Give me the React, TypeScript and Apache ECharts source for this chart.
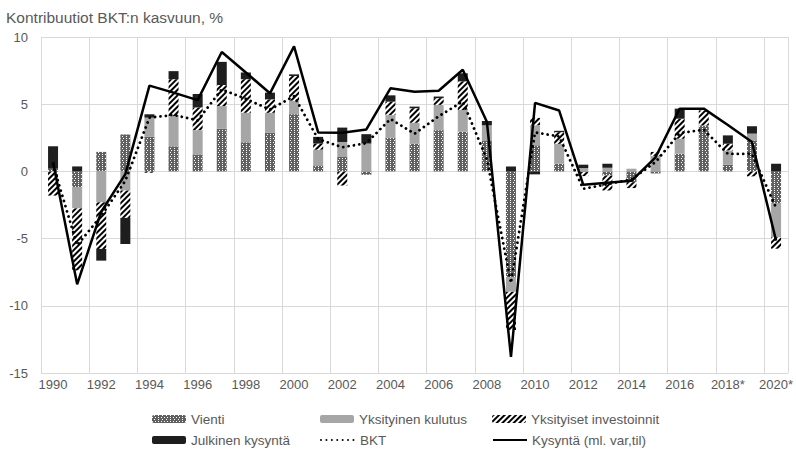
import React, { useEffect, useRef } from "react";
import * as echarts from "echarts";

const years = [
  "1990", "1991", "1992", "1993", "1994", "1995", "1996", "1997", "1998", "1999",
  "2000", "2001", "2002", "2003", "2004", "2005", "2006", "2007", "2008", "2009",
  "2010", "2011", "2012", "2013", "2014", "2015", "2016", "2017", "2018*", "2019*", "2020*",
];

const vienti = [
  0.2, -1.2, 1.45, 2.75, 2.57, 1.87, 1.27, 3.17, 2.17, 2.87,
  4.26, 0.45, 1.07, -0.25, 2.52, 2.07, 3.07, 2.95, 2.26, -7.85,
  1.94, 0.57, -0.05, -0.3, -0.8, -0.15, 1.32, 3.42, 0.5, 2.31, -2.4,
];
const kulutus = [
  0.0, -1.55, -2.3, -1.42, 1.43, 2.23, 1.8, 1.69, 2.19, 1.49,
  1.0, 1.17, 1.12, 2.07, 1.67, 1.55, 1.88, 1.62, 1.17, -1.1,
  1.49, 1.48, 0.25, 0.27, 0.2, 1.15, 1.11, 0.0, 1.06, 0.5, -2.5,
];
const investoinnit = [
  -1.8, -4.62, -3.47, -2.04, -0.1, 2.76, 1.69, 1.57, 2.5, 1.0,
  1.84, 0.45, -1.05, 0.0, 1.0, 1.08, 0.5, 2.13, 0.0, -2.85,
  0.55, 0.87, -0.3, -1.12, -0.44, 0.3, 1.49, 1.12, 0.5, -0.37, -0.85,
];
const julkinen = [
  1.67, 0.37, -0.87, -1.94, 0.25, 0.6, 1.0, 1.72, 0.5, 0.5,
  0.12, 0.5, 1.07, 0.7, 0.47, 0.12, 0.12, 0.6, 0.32, 0.37,
  -0.22, 0.1, 0.25, 0.3, 0.0, 0.0, 0.75, 0.0, 0.62, 0.55, 0.57,
];
const bkt = [
  0.5, -5.5, -3.3, -0.7, 4.0, 4.2, 3.8, 6.1, 5.4, 4.6,
  5.6, 2.4, 1.8, 2.1, 3.9, 2.8, 4.1, 5.2, 0.9, -8.3,
  2.9, 2.6, -1.3, -0.95, -0.6, 0.7, 2.85, 3.1, 1.3, 1.3, -2.7,
];
const kysynta = [
  0.7, -8.4, -3.0, -0.2, 6.38, 5.86, 5.3, 8.88, 7.36, 5.81,
  9.3, 2.9, 2.87, 3.12, 6.18, 5.92, 6.0, 7.56, 3.7, -13.8,
  5.1, 4.53, -1.0, -0.85, -0.7, 1.05, 4.67, 4.67, 3.45, 2.19, -5.15,
];

const yTicks = { min: -15, max: 10, interval: 5 };
const titleText = "Kontribuutiot BKT:n kasvuun, %";
const FONT = "'Liberation Sans', Arial, sans-serif";
const TXT = "#595959";

export default function App() {
  const ref = useRef<HTMLDivElement>(null);
  useEffect(() => {
    if (!ref.current) return;
    const chart = echarts.init(ref.current, null, { renderer: "svg" });
    const legendBase = (name: string, left: number, top: number, bar: boolean) => ({
      data: [name],
      left,
      top,
      padding: 0,
      itemWidth: 34,
      itemHeight: 8,
      selectedMode: false,
      itemStyle: bar ? {} : { color: "rgba(0,0,0,0)", opacity: 0, borderWidth: 0 },
      textStyle: { color: TXT, fontSize: 13.5, fontFamily: FONT },
    });
    chart.setOption({
      animation: false,
      backgroundColor: "#ffffff",
      title: {
        text: titleText,
        left: 6,
        top: 9,
        padding: 0,
        textStyle: { color: TXT, fontSize: 15.5, fontWeight: "normal", fontFamily: FONT },
      },
      legend: [
        legendBase("Vienti", 152, 412, true),
        legendBase("Yksityinen kulutus", 320, 412, true),
        legendBase("Yksityiset investoinnit", 492, 412, true),
        legendBase("Julkinen kysyntä", 152, 433, true),
        legendBase("BKT", 320, 433, false),
        legendBase("Kysyntä (ml. var,til)", 492, 433, false),
      ],
      grid: { left: 41, right: 4, top: 37, bottom: 76, containLabel: false },
      xAxis: {
        type: "category",
        data: years,
        axisLine: { show: false },
        axisTick: { show: false },
        axisLabel: { interval: 1, color: TXT, fontSize: 13, fontFamily: FONT, margin: 5 },
        splitLine: { show: true, interval: 1, lineStyle: { color: "#d9d9d9", width: 1 } },
      },
      yAxis: {
        type: "value",
        min: yTicks.min,
        max: yTicks.max,
        interval: yTicks.interval,
        axisLine: { show: false },
        axisTick: { show: false },
        axisLabel: { color: TXT, fontSize: 13, fontFamily: FONT, margin: 13 },
        splitLine: { lineStyle: { color: "#d9d9d9", width: 1 } },
      },
      series: [
        {
          name: "Vienti",
          type: "bar",
          stack: "a",
          barWidth: 10,
          data: vienti,
          itemStyle: {
            color: "#606060",
            decal: {
              symbol: "rect",
              symbolSize: 1,
              color: "#ffffff",
              dashArrayX: [[1, 2], [0, 1.5, 1, 0.5]],
              dashArrayY: [1, 1],
            },
          },
        },
        {
          name: "Yksityinen kulutus",
          type: "bar",
          stack: "a",
          barWidth: 10,
          data: kulutus,
          itemStyle: { color: "#a6a6a6" },
        },
        {
          name: "Yksityiset investoinnit",
          type: "bar",
          stack: "a",
          barWidth: 10,
          data: investoinnit,
          itemStyle: {
            color: "#ffffff",
            decal: {
              symbol: "rect",
              symbolSize: 1,
              color: "#000000",
              dashArrayX: [1, 0],
              dashArrayY: [1.6, 1.6],
              rotation: -Math.PI / 4,
            },
          },
        },
        {
          name: "Julkinen kysyntä",
          type: "bar",
          stack: "a",
          barWidth: 10,
          data: julkinen,
          itemStyle: { color: "#1e1e1e" },
        },
        {
          name: "BKT",
          type: "line",
          data: bkt,
          symbol: "none",
          z: 5,
          lineStyle: { color: "#000000", width: 2.8, type: [0.01, 5.4], cap: "round" },
          itemStyle: { color: "#000000" },
        },
        {
          name: "Kysyntä (ml. var,til)",
          type: "line",
          data: kysynta,
          symbol: "none",
          z: 6,
          lineStyle: { color: "#000000", width: 2.5 },
          itemStyle: { color: "#000000" },
        },
      ],
    });
    return () => chart.dispose();
  }, []);
  return (
    <div
      ref={ref}
      style={{ position: "fixed", left: 0, top: 0, width: 796, height: 449, background: "#fff" }}
    />
  );
}
